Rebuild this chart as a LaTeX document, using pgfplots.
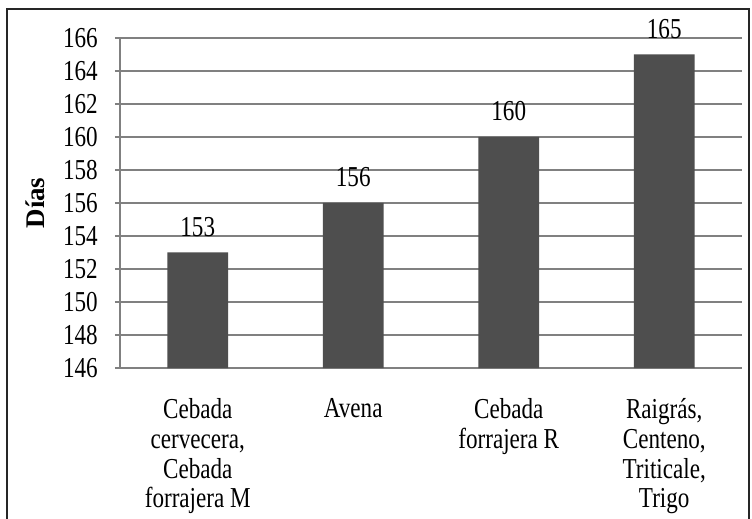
\documentclass[border=0pt]{standalone}
\usepackage{fontspec}
\setmainfont{Liberation Serif}[FakeStretch=0.8]
\newfontfamily\labelfont{Liberation Serif}
\usepackage{pgfplots}
\pgfplotsset{compat=1.18}
\definecolor{barfill}{RGB}{78,78,78}
\definecolor{gridgray}{RGB}{128,128,128}
\begin{document}
\begin{tikzpicture}
\useasboundingbox (0,0) rectangle (752bp,519bp);
\fill[white] (0,0) rectangle (752bp,519bp);
% outer frame (open at the bottom)
\draw[line width=2.4bp, black!85] (7bp,0) -- (7bp,510bp) -- (749bp,510bp) -- (749bp,0);
\begin{axis}[
  at={(120bp,151bp)}, anchor=south west,
  scale only axis,
  width=622bp, height=330bp,
  ybar, bar width=0.39,
  xmin=-0.5, xmax=3.5,
  ymin=146, ymax=166,
  ytick={146,148,...,166},
  xtick={0,1,2,3},
  xticklabels={{Cebada\\cervecera,\\Cebada\\forrajera M},{Avena},{Cebada\\forrajera R},{Raigrás,\\Centeno,\\Triticale,\\Trigo}},
  axis x line*=bottom, axis y line*=left,
  axis line style={gridgray, line width=1.2bp},
  ymajorgrids, grid style={gridgray, line width=1.2bp},
  major tick length=5bp,
  xtick style={draw=none},
  ytick style={gridgray, line width=1.2bp},
  tick align=outside,
  /pgf/number format/assume math mode=true,
  tick label style={font=\fontsize{29}{30}\selectfont, black},
  yticklabel style={anchor=east, inner sep=0pt, xshift=-17bp},
  xticklabel style={align=center, anchor=north, inner sep=0pt, yshift=-25bp},
  ylabel={Días},
  ylabel style={font=\labelfont\fontsize{27}{30}\selectfont\bfseries, at={(axis description cs:-0.137,0.5)}, anchor=center},
  nodes near coords,
  every node near coord/.style={font=\fontsize{29}{30}\selectfont, black, anchor=south, inner sep=0pt, yshift=16bp},
  clip=false,
]
\addplot[fill=barfill, draw=none] coordinates {(0,153) (1,156) (2,160) (3,165)};
\end{axis}
\end{tikzpicture}
\end{document}
